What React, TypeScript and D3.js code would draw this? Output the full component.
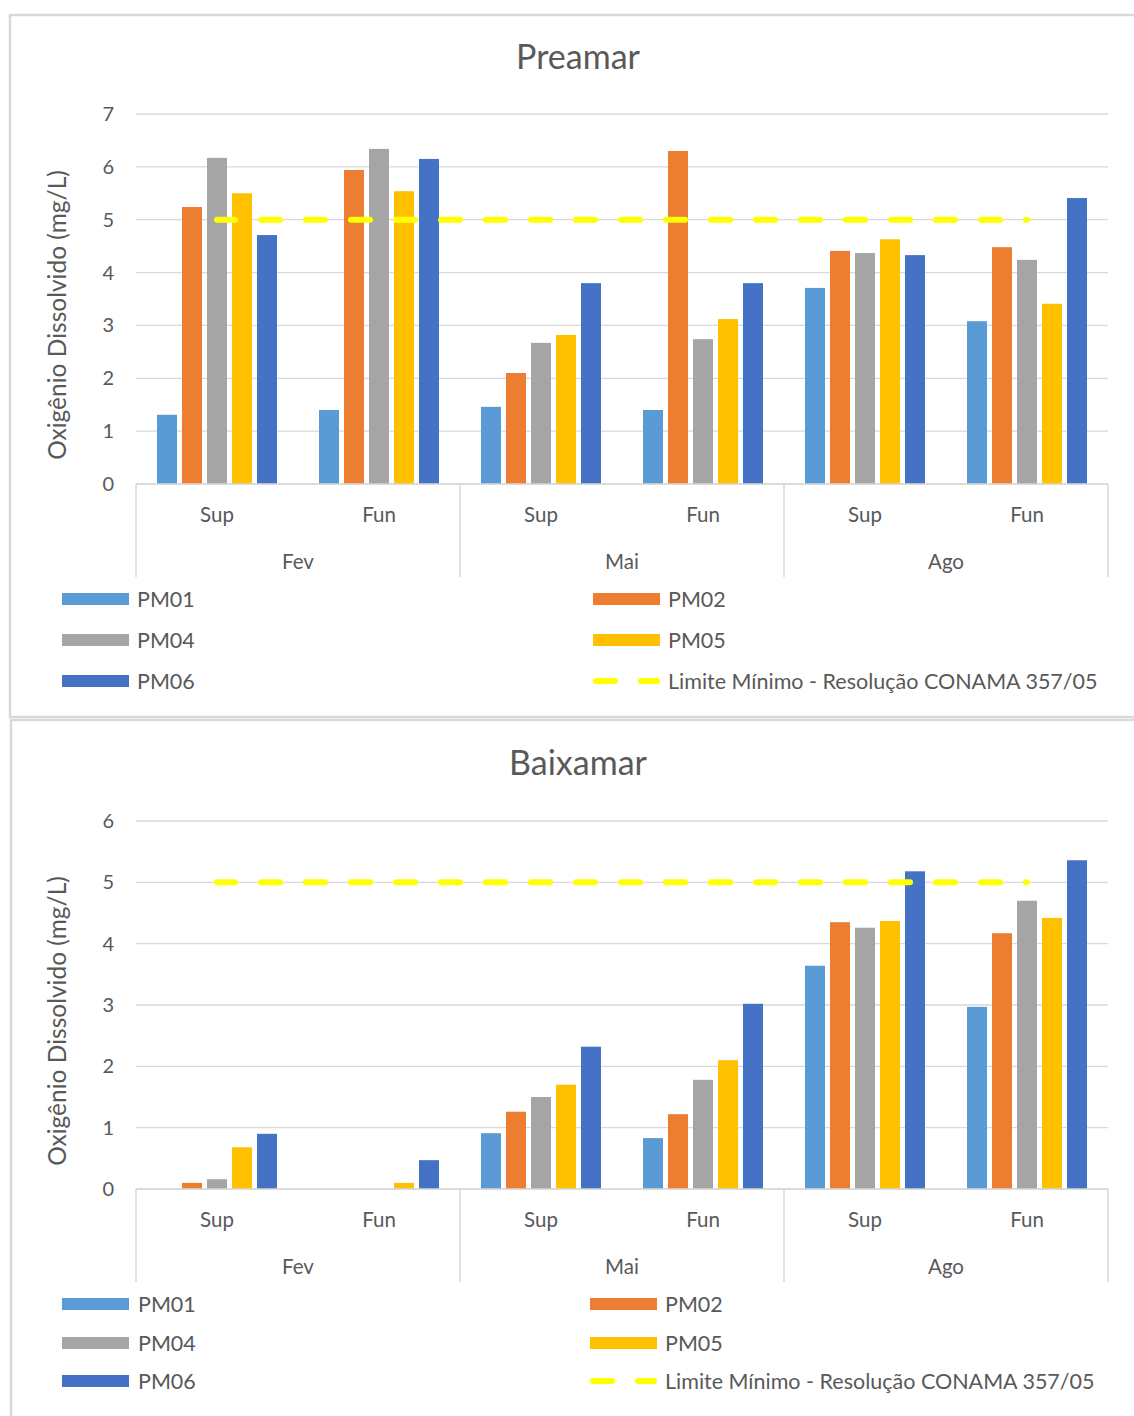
import React from "react";
import * as d3 from "d3";

const months = ["Fev", "Mai", "Ago"];
const depths = ["Sup", "Fun"];
const seriesNames = ["PM01", "PM02", "PM04", "PM05", "PM06"];
const seriesColors = ["#5B9BD5", "#ED7D31", "#A5A5A5", "#FFC000", "#4472C4"];
const limitLabel = "Limite Mínimo - Resolução CONAMA 357/05";
const limitValue = 5;
const yTitle = "Oxigênio Dissolvido (mg/L)";

// Order per series: Fev-Sup, Fev-Fun, Mai-Sup, Mai-Fun, Ago-Sup, Ago-Fun
const preamarPM01 = [1.31, 1.4, 1.46, 1.4, 3.71, 3.08];
const preamarPM02 = [5.24, 5.94, 2.1, 6.3, 4.41, 4.48];
const preamarPM04 = [6.17, 6.34, 2.67, 2.74, 4.37, 4.24];
const preamarPM05 = [5.5, 5.54, 2.82, 3.12, 4.63, 3.41];
const preamarPM06 = [4.71, 6.15, 3.8, 3.8, 4.33, 5.41];
const preamarTicks = [0, 1, 2, 3, 4, 5, 6, 7];

const baixamarPM01 = [0, 0, 0.91, 0.83, 3.64, 2.97];
const baixamarPM02 = [0.1, 0, 1.26, 1.22, 4.35, 4.17];
const baixamarPM04 = [0.16, 0, 1.5, 1.78, 4.26, 4.7];
const baixamarPM05 = [0.68, 0.1, 1.7, 2.1, 4.37, 4.42];
const baixamarPM06 = [0.9, 0.47, 2.32, 3.02, 5.18, 5.36];
const baixamarTicks = [0, 1, 2, 3, 4, 5, 6];

const FONT = "Lato, 'Open Sans', sans-serif";
const TEXT = "#595959";
const GRID = "#D9D9D9";

type PanelProps = {
  title: string;
  values: number[][];
  ticks: number[];
  top: number;
  yZero: number;
  yMax: number;
  yTitleCenter: number;
  legendRows: number[];
  legendL: { sx: number; tx: number };
  legendR: { sx: number; tx: number };
};

function Panel(p: PanelProps) {
  const left = 136;
  const right = 1108;
  const maxTick = p.ticks[p.ticks.length - 1];
  const y = d3.scaleLinear().domain([0, maxTick]).range([p.yZero, p.yMax]);
  const xMonth = d3.scaleBand<string>().domain(months).range([left, right]).padding(0);
  const xDepth = d3.scaleBand<string>().domain(depths).range([0, xMonth.bandwidth()]).padding(0);
  const xSeries = d3
    .scaleBand<string>()
    .domain(seriesNames)
    .range([0, xDepth.bandwidth()])
    .paddingInner(0.2)
    .paddingOuter(0.84);

  const cats: { m: string; d: string; x0: number }[] = [];
  months.forEach((m) => depths.forEach((d) => cats.push({ m, d, x0: (xMonth(m) as number) + (xDepth(d) as number) })));

  const limitPts = cats.map((c) => [c.x0 + xDepth.bandwidth() / 2, y(limitValue)] as [number, number]);
  const line = d3.line();
  const axisBottom = p.yZero + 93;

  const legendItems = [
    { name: seriesNames[0], color: seriesColors[0], col: 0, row: 0 },
    { name: seriesNames[1], color: seriesColors[1], col: 1, row: 0 },
    { name: seriesNames[2], color: seriesColors[2], col: 0, row: 1 },
    { name: seriesNames[3], color: seriesColors[3], col: 1, row: 1 },
    { name: seriesNames[4], color: seriesColors[4], col: 0, row: 2 },
  ];

  return (
    <g>
      <text x={578} y={p.top + 66} textAnchor="middle" fontSize={34} fill={TEXT} fontFamily={FONT}>
        {p.title}
      </text>
      {p.ticks.map((t) => (
        <g key={t}>
          <line x1={left} x2={right} y1={y(t)} y2={y(t)} stroke={GRID} strokeWidth={1.3} />
          <text x={114} y={y(t)} dy="0.35em" textAnchor="end" fontSize={20} fill={TEXT} fontFamily={FONT}>
            {t}
          </text>
        </g>
      ))}
      <text
        transform={`translate(57,${p.yTitleCenter}) rotate(-90)`}
        dy="0.35em"
        textAnchor="middle"
        fontSize={24.5}
        fill={TEXT}
        fontFamily={FONT}
      >
        {yTitle}
      </text>
      {cats.map((c, ci) =>
        p.values.map((vals, si) => {
          const v = vals[ci];
          if (!v) return null;
          return (
            <rect
              key={`${ci}-${si}`}
              x={c.x0 + (xSeries(seriesNames[si]) as number)}
              y={y(v)}
              width={xSeries.bandwidth()}
              height={y(0) - y(v)}
              fill={seriesColors[si]}
            />
          );
        })
      )}
      <path
        d={line(limitPts) || ""}
        fill="none"
        stroke="#FFFF00"
        strokeWidth={6}
        strokeDasharray="19,26"
        strokeDashoffset={1}
        strokeLinecap="round"
      />
      <line x1={left} x2={right} y1={y(0)} y2={y(0)} stroke={GRID} strokeWidth={1.5} />
      {[...months.map((m) => xMonth(m) as number), right].map((xx, i) => (
        <line key={i} x1={xx} x2={xx} y1={y(0)} y2={axisBottom} stroke={GRID} strokeWidth={1.5} />
      ))}
      {cats.map((c, i) => (
        <text
          key={i}
          x={c.x0 + xDepth.bandwidth() / 2}
          y={y(0) + 31}
          dy="0.35em"
          textAnchor="middle"
          fontSize={20.5}
          fill={TEXT}
          fontFamily={FONT}
        >
          {c.d}
        </text>
      ))}
      {months.map((m) => (
        <text
          key={m}
          x={(xMonth(m) as number) + xMonth.bandwidth() / 2}
          y={y(0) + 78}
          dy="0.35em"
          textAnchor="middle"
          fontSize={20.5}
          fill={TEXT}
          fontFamily={FONT}
        >
          {m}
        </text>
      ))}
      {legendItems.map((it) => {
        const L = it.col === 0 ? p.legendL : p.legendR;
        const ry = p.legendRows[it.row];
        return (
          <g key={it.name}>
            <rect x={L.sx} y={ry - 6} width={67} height={12} fill={it.color} />
            <text x={L.tx} y={ry} dy="0.35em" fontSize={21.5} fill={TEXT} fontFamily={FONT}>
              {it.name}
            </text>
          </g>
        );
      })}
      <g>
        <line
          x1={p.legendR.sx + 3}
          x2={p.legendR.sx + 64}
          y1={p.legendRows[2]}
          y2={p.legendRows[2]}
          stroke="#FFFF00"
          strokeWidth={6}
          strokeDasharray="19,26"
          strokeLinecap="round"
        />
        <text x={p.legendR.tx} y={p.legendRows[2]} dy="0.35em" fontSize={21.5} fill={TEXT} fontFamily={FONT}>
          {limitLabel}
        </text>
      </g>
    </g>
  );
}

export default function App() {
  return (
    <svg
      width={1134}
      height={1416}
      style={{ position: "absolute", left: 0, top: 0, background: "#fff" }}
    >
      <rect x={0} y={0} width={1134} height={1416} fill="#fff" />
      <rect x={10} y={15} width={1140} height={702} fill="none" stroke={GRID} strokeWidth={2.5} />
      <rect x={11} y={720} width={1140} height={720} fill="none" stroke={GRID} strokeWidth={2.5} />
      <Panel
        title="Preamar"
        values={[preamarPM01, preamarPM02, preamarPM04, preamarPM05, preamarPM06]}
        ticks={preamarTicks}
        top={3}
        yZero={484}
        yMax={114}
        yTitleCenter={315}
        legendRows={[599, 640, 681]}
        legendL={{ sx: 62, tx: 137 }}
        legendR={{ sx: 593, tx: 668 }}
      />
      <Panel
        title="Baixamar"
        values={[baixamarPM01, baixamarPM02, baixamarPM04, baixamarPM05, baixamarPM06]}
        ticks={baixamarTicks}
        top={709}
        yZero={1189}
        yMax={821}
        yTitleCenter={1021}
        legendRows={[1304, 1343, 1381]}
        legendL={{ sx: 62, tx: 138 }}
        legendR={{ sx: 590, tx: 665 }}
      />
    </svg>
  );
}
